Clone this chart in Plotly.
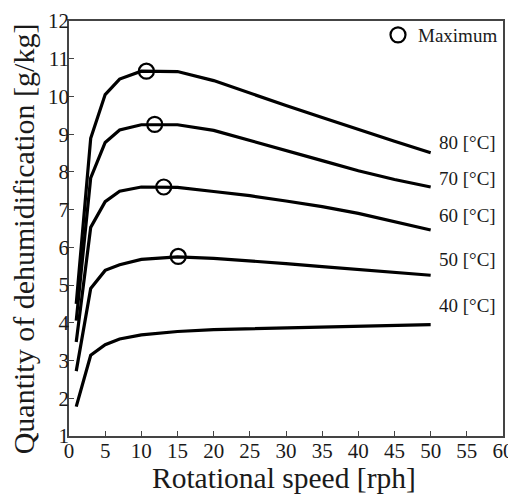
import plotly.graph_objects as go

speed = [1, 3, 5, 7, 10, 15, 20, 25, 30, 35, 40, 45, 50]
q80 = [4.50, 8.89, 10.05, 10.46, 10.67, 10.66, 10.42, 10.08, 9.76, 9.44, 9.12, 8.81, 8.51]
q70 = [4.06, 7.84, 8.78, 9.11, 9.25, 9.25, 9.10, 8.84, 8.58, 8.30, 8.03, 7.80, 7.60]
q60 = [3.49, 6.53, 7.21, 7.49, 7.60, 7.59, 7.48, 7.37, 7.23, 7.08, 6.90, 6.68, 6.46]
q50 = [2.72, 4.91, 5.39, 5.54, 5.68, 5.75, 5.71, 5.65, 5.57, 5.49, 5.42, 5.33, 5.26]
q40 = [1.78, 3.14, 3.42, 3.57, 3.68, 3.77, 3.82, 3.84, 3.86, 3.88, 3.90, 3.92, 3.95]
series_names = ["80 [°C]", "70 [°C]", "60 [°C]", "50 [°C]", "40 [°C]"]
series = [q80, q70, q60, q50, q40]
label_y = [8.79, 7.82, 6.84, 5.67, 4.47]

max_x = [10.7, 11.85, 13.1, 15.1]
max_y = [10.67, 9.26, 7.60, 5.76]

SERIF = "Liberation Serif, Times New Roman, Times, serif"
TXT = "#1a1a1a"

fig = go.Figure()
for name, ys in zip(series_names, series):
    fig.add_trace(go.Scatter(x=speed, y=ys, mode="lines", name=name,
                             line=dict(color="black", width=3.2),
                             showlegend=False))
fig.add_trace(go.Scatter(x=max_x, y=max_y, mode="markers", name="Maximum",
                         marker=dict(symbol="circle-open", size=15, color="black",
                                     line=dict(width=2.2, color="black")),
                         showlegend=True))

for name, ly in zip(series_names, label_y):
    fig.add_annotation(x=59.3, y=ly, text=name, showarrow=False, xanchor="right",
                       yanchor="middle", font=dict(family=SERIF, size=19, color=TXT))

fig.add_annotation(xref="paper", yref="paper", x=0.495, y=-0.1, yanchor="middle",
                   text="Rotational speed [rph]", showarrow=False,
                   font=dict(family=SERIF, size=29.5, color=TXT))
fig.add_annotation(xref="paper", yref="paper", x=-0.104, y=0.476, xanchor="center",
                   yanchor="middle",
                   text="Quantity of dehumidification [g/kg]", showarrow=False, textangle=-90,
                   font=dict(family=SERIF, size=30, color=TXT))

axis_common = dict(showline=True, linecolor="#444", linewidth=1.5, mirror=True,
                   ticks="inside", ticklen=5, tickwidth=1, tickcolor="#444",
                   showgrid=False, zeroline=False, automargin=False,
                   ticklabeloverflow="allow",
                   tickfont=dict(family=SERIF, size=21, color=TXT))

fig.update_layout(
    width=508, height=487,
    margin=dict(l=61.3, r=13, t=8.5, b=59.4),
    plot_bgcolor="white", paper_bgcolor="white",
    font=dict(family=SERIF, color=TXT),
    xaxis=dict(range=[0, 60], dtick=5, tick0=0, ticklabelstandoff=-5, **axis_common),
    yaxis=dict(range=[1, 12], dtick=1, tick0=1, ticklabelstandoff=-6, **axis_common),
    legend=dict(x=1, y=1.012, xanchor="right", yanchor="top", bgcolor="rgba(0,0,0,0)",
                font=dict(family=SERIF, size=19, color=TXT),
                itemwidth=30, tracegroupgap=0),
)
fig.write_html("out.html")
